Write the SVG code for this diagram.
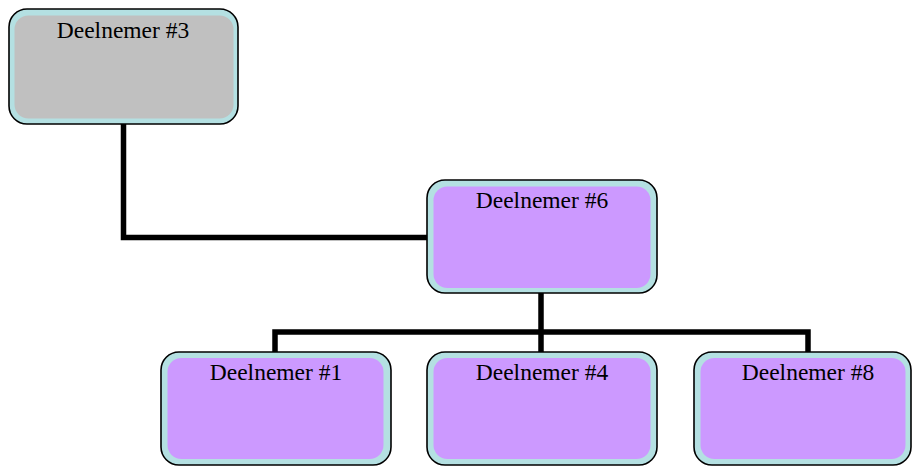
<svg xmlns="http://www.w3.org/2000/svg" width="912" height="466" viewBox="0 0 912 466">
  <style>
    .frame { fill: #b4e0e2; stroke: #000; stroke-width: 1.6; }
    .gray { fill: #c0c0c0; }
    .lilac { fill: #cc99ff; }
    .label { font-family: "Liberation Serif", "Times New Roman", serif; font-size: 23.5px; fill: #000; text-anchor: middle; }
    .link { fill: none; stroke: #000; stroke-width: 5.5; stroke-linejoin: miter; stroke-linecap: butt; }
  </style>
  <rect width="912" height="466" fill="#fff"/>

  <g id="connectors">
    <polyline class="link" points="123.5,124 123.5,237.5 427,237.5"/>
    <line class="link" x1="541" y1="293" x2="541" y2="352"/>
    <polyline class="link" points="275,352 275,332 808,332 808,352"/>
  </g>

  <g id="deelnemer-3">
    <rect class="frame" x="9" y="9" width="229" height="115" rx="18"/>
    <rect class="gray" x="14.5" y="15.5" width="219" height="103" rx="14"/>
    <text class="label" x="123" y="38">Deelnemer #3</text>
  </g>

  <g id="deelnemer-6">
    <rect class="frame" x="427" y="180" width="230" height="113" rx="18"/>
    <rect class="lilac" x="433.5" y="186.5" width="217" height="101.5" rx="14"/>
    <text class="label" x="542" y="208">Deelnemer #6</text>
  </g>

  <g id="deelnemer-1">
    <rect class="frame" x="161" y="352" width="230" height="113" rx="18"/>
    <rect class="lilac" x="167.5" y="358" width="216" height="101" rx="14"/>
    <text class="label" x="276" y="380">Deelnemer #1</text>
  </g>

  <g id="deelnemer-4">
    <rect class="frame" x="427" y="352" width="230" height="113" rx="18"/>
    <rect class="lilac" x="433.5" y="358" width="217" height="101" rx="14"/>
    <text class="label" x="542" y="380">Deelnemer #4</text>
  </g>

  <g id="deelnemer-8">
    <rect class="frame" x="694" y="352" width="217" height="113" rx="18"/>
    <rect class="lilac" x="700.5" y="358" width="205" height="101" rx="14"/>
    <text class="label" x="808" y="380">Deelnemer #8</text>
  </g>
</svg>
